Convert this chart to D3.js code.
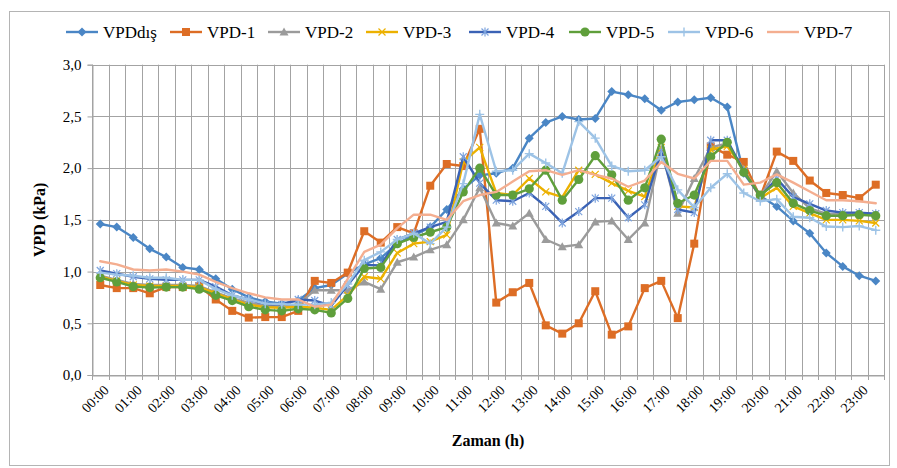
<!DOCTYPE html>
<html><head><meta charset="utf-8">
<script src="https://cdn.jsdelivr.net/npm/d3@7"></script>
<style>
html,body{margin:0;padding:0;background:#fff;}
svg{display:block;}
</style></head>
<body>
<svg id="chart" width="897" height="468"></svg>
<script>
// ---- data ----
const times = [];
for (let h = 0; h < 24; h++) { const hh = String(h).padStart(2, "0"); times.push(hh + ":00", hh + ":30"); }
const hourLabels = times.filter(t => t.endsWith(":00"));
const yTicks = [0, 0.5, 1.0, 1.5, 2.0, 2.5, 3.0];

const seriesNames = ["VPDdış", "VPD-1", "VPD-2", "VPD-3", "VPD-4", "VPD-5", "VPD-6", "VPD-7"];

const vpdDis = [1.46,1.43,1.33,1.22,1.14,1.04,1.02,0.93,0.83,0.75,0.71,0.69,0.72,0.84,0.87,0.98,1.07,1.13,1.27,1.35,1.43,1.60,1.80,1.93,
                1.95,2.00,2.29,2.44,2.50,2.47,2.48,2.74,2.71,2.67,2.56,2.64,2.66,2.68,2.59,1.95,1.73,1.63,1.49,1.37,1.18,1.05,0.96,0.91];
const vpd1 = [0.87,0.84,0.84,0.79,0.85,0.85,0.86,0.73,0.62,0.555,0.56,0.56,0.62,0.91,0.89,0.99,1.39,1.28,1.43,1.37,1.83,2.04,2.02,2.38,
              0.70,0.80,0.89,0.48,0.40,0.50,0.81,0.39,0.47,0.84,0.91,0.55,1.27,2.21,2.13,2.06,1.72,2.16,2.07,1.88,1.76,1.74,1.71,1.84];
const vpd2 = [0.96,0.92,0.88,0.87,0.87,0.87,0.86,0.80,0.74,0.70,0.67,0.66,0.68,0.82,0.82,0.82,0.90,0.83,1.09,1.14,1.21,1.26,1.50,1.81,
              1.47,1.44,1.565,1.31,1.24,1.26,1.48,1.49,1.31,1.47,2.18,1.565,1.90,2.20,2.24,1.99,1.73,1.97,1.76,1.61,1.56,1.555,1.56,1.55];
const vpd3 = [0.95,0.91,0.87,0.86,0.86,0.86,0.85,0.79,0.73,0.68,0.655,0.65,0.66,0.65,0.63,0.77,0.95,0.93,1.18,1.27,1.29,1.355,2.06,2.20,
              1.76,1.74,1.90,1.77,1.72,1.98,1.94,1.855,1.78,1.725,2.20,1.63,1.62,2.18,2.21,1.99,1.71,1.81,1.63,1.565,1.50,1.50,1.49,1.47];
const vpd4 = [1.01,0.98,0.95,0.93,0.92,0.92,0.92,0.855,0.77,0.73,0.685,0.68,0.73,0.72,0.67,0.87,1.065,1.06,1.31,1.37,1.43,1.48,2.11,1.855,
              1.69,1.68,1.76,1.63,1.47,1.58,1.71,1.71,1.52,1.645,2.17,1.60,1.57,2.27,2.27,1.97,1.725,1.90,1.72,1.655,1.59,1.57,1.57,1.56];
const vpd5 = [0.94,0.90,0.855,0.845,0.85,0.85,0.83,0.77,0.72,0.66,0.63,0.62,0.64,0.63,0.60,0.74,1.03,1.04,1.27,1.33,1.38,1.43,1.77,2.00,
              1.74,1.74,1.80,1.98,1.69,1.89,2.12,1.935,1.69,1.81,2.28,1.66,1.74,2.11,2.25,1.96,1.74,1.86,1.66,1.59,1.54,1.54,1.55,1.54];
const vpd6 = [0.99,0.97,0.96,0.94,0.94,0.92,0.92,0.83,0.77,0.73,0.69,0.685,0.68,0.68,0.70,0.88,1.11,1.19,1.31,1.37,1.27,1.43,1.85,2.52,
              1.97,1.98,2.14,2.05,1.95,2.45,2.29,2.02,1.97,1.98,2.11,1.79,1.62,1.81,1.945,1.76,1.68,1.70,1.53,1.52,1.435,1.43,1.44,1.40];
const vpd7 = [1.10,1.07,1.02,1.01,1.02,1.00,0.97,0.90,0.84,0.79,0.75,0.73,0.73,0.66,0.68,0.93,1.19,1.26,1.42,1.55,1.55,1.50,1.68,1.74,
              1.77,1.87,1.97,1.98,1.935,1.98,1.935,1.90,1.82,1.88,2.06,1.945,1.90,2.07,2.07,1.84,1.86,1.94,1.86,1.774,1.69,1.69,1.68,1.66];

const seriesValues = [vpdDis, vpd1, vpd2, vpd3, vpd4, vpd5, vpd6, vpd7];
const colors = ["#4a86c5", "#dd6d25", "#9b9b9b", "#ecb100", "#3a62b5", "#5f9f3b", "#9dc3e6", "#f4ae90"];
const markerColors = ["#4a86c5", "#dd6d25", "#9b9b9b", "#ecb100", "#7ea4de", "#5f9f3b", "#9dc3e6", null];
const markers = ["diamond", "square", "triangle", "x", "asterisk", "circle", "plus", "none"];

const FONT = "'Liberation Serif', 'Times New Roman', Tinos, serif";

// ---- layout ----
const svg = d3.select("#chart");
const L = 92, R = 884, T = 64.7, B = 375;

svg.append("rect").attr("x", 9.5).attr("y", 11.5).attr("width", 880).attr("height", 454)
  .attr("fill", "#fff").attr("stroke", "#b4b4b4").attr("stroke-width", 1);

const x = d3.scaleBand().domain(times).range([L, R]).padding(0);
const y = d3.scaleLinear().domain([0, 3]).range([B, T]);
const cx = t => x(t) + x.bandwidth() / 2;

// gridlines
const grid = svg.append("g");
grid.selectAll("line.h").data(yTicks).join("line")
  .attr("x1", L).attr("x2", R).attr("y1", d => Math.round(y(d)) + 0.5).attr("y2", d => Math.round(y(d)) + 0.5)
  .attr("stroke", "#a3a3a3").attr("stroke-width", 1);
const bounds = times.map(t => x(t)).concat([R]);
grid.selectAll("line.v").data(bounds).join("line")
  .attr("x1", d => Math.round(d) + 0.5).attr("x2", d => Math.round(d) + 0.5)
  .attr("y1", T).attr("y2", B + 5)
  .attr("stroke", "#a3a3a3").attr("stroke-width", 1);

// y axis
const yAxis = svg.append("g").attr("transform", `translate(${L + 0.5},0)`)
  .call(d3.axisLeft(y).tickValues(yTicks).tickFormat(d => d.toFixed(1).replace(".", ",")).tickSize(5).tickPadding(6));
yAxis.attr("font-family", null);
yAxis.select(".domain").attr("stroke", "#a3a3a3");
yAxis.selectAll(".tick line").attr("stroke", "#a3a3a3");
yAxis.selectAll("text").style("font-size", "15px").style("font-family", FONT).attr("fill", "#000");

// x axis
const xAxis = svg.append("g").attr("transform", `translate(0,${Math.round(B) + 0.5})`)
  .call(d3.axisBottom(x).tickValues(hourLabels).tickSize(0).tickPadding(0));
xAxis.attr("font-family", null);
xAxis.select(".domain").attr("stroke", "#a3a3a3");
xAxis.selectAll(".tick text")
  .style("font-size", "14px").style("font-family", FONT).attr("fill", "#000")
  .attr("text-anchor", "end")
  .attr("x", 0).attr("y", 0).attr("dy", "0.35em")
  .attr("transform", "translate(6,12) rotate(-45)");

// axis titles
svg.append("text").attr("x", (L + R) / 2).attr("y", 446).attr("text-anchor", "middle")
  .style("font-family", FONT).style("font-size", "16px").style("font-weight", "bold").text("Zaman (h)");
svg.append("text").attr("transform", `translate(45,${(T + B) / 2}) rotate(-90)`).attr("text-anchor", "middle")
  .style("font-family", FONT).style("font-size", "16px").style("font-weight", "bold").text("VPD (kPa)");

// marker drawing
function drawMarker(g, type, color) {
  if (type === "diamond") g.append("path").attr("d", "M0,-4.5L4.5,0L0,4.5L-4.5,0Z").attr("fill", color);
  else if (type === "square") g.append("rect").attr("x", -4).attr("y", -4).attr("width", 8).attr("height", 8).attr("fill", color);
  else if (type === "triangle") g.append("path").attr("d", "M0,-4.5L4.5,3.5L-4.5,3.5Z").attr("fill", color);
  else if (type === "circle") g.append("circle").attr("r", 4.6).attr("fill", color);
  else if (type === "x") g.append("path").attr("d", "M-3.5,-3.5L3.5,3.5M-3.5,3.5L3.5,-3.5").attr("stroke", color).attr("stroke-width", 1.2).attr("fill", "none");
  else if (type === "asterisk") g.append("path").attr("d", "M-3.5,-3.5L3.5,3.5M-3.5,3.5L3.5,-3.5M0,-4.5L0,4.5").attr("stroke", color).attr("stroke-width", 1.2).attr("fill", "none");
  else if (type === "plus") g.append("path").attr("d", "M-4.5,0L4.5,0M0,-4.5L0,4.5").attr("stroke", color).attr("stroke-width", 1.4).attr("fill", "none");
}

// series
const line = d3.line().x((d, i) => cx(times[i])).y(d => y(d));
seriesValues.forEach((vals, si) => {
  const g = svg.append("g");
  g.append("path").datum(vals).attr("d", line).attr("fill", "none")
    .attr("stroke", colors[si]).attr("stroke-width", 2.4).attr("stroke-linejoin", "round").attr("stroke-linecap", "round");
  if (markers[si] !== "none") {
    vals.forEach((v, i) => {
      const mg = g.append("g").attr("transform", `translate(${cx(times[i])},${y(v)})`);
      drawMarker(mg, markers[si], markerColors[si]);
    });
  }
});

// legend
const legX = [66, 170, 268, 366, 469, 569, 668, 767];
const legY = 32;
seriesNames.forEach((name, si) => {
  const g = svg.append("g").attr("transform", `translate(${legX[si]},${legY})`);
  g.append("line").attr("x1", 0).attr("x2", 32).attr("y1", 0).attr("y2", 0).attr("stroke", colors[si]).attr("stroke-width", 2.4);
  if (markers[si] !== "none") drawMarker(g.append("g").attr("transform", "translate(16,0)"), markers[si], markerColors[si]);
  g.append("text").attr("x", 37).attr("y", 0).attr("dy", "0.35em")
    .style("font-family", FONT).style("font-size", "17px").text(name);
});
</script>
</body></html>
